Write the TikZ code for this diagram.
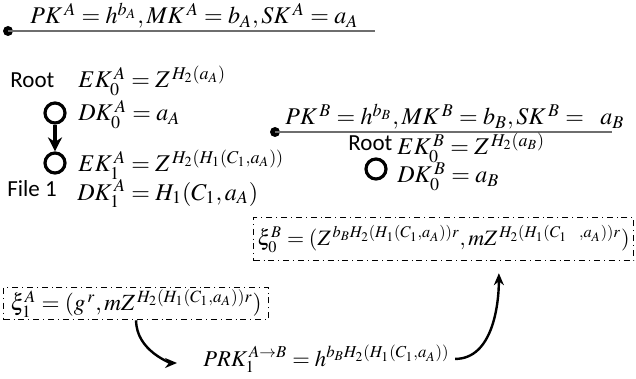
\documentclass[tikz,border=0pt]{standalone}
\usepackage{mathptmx}
\usepackage{fontspec}
\newfontfamily\labelfont{Carlito}
\usetikzlibrary{arrows.meta,positioning,calc}
\definecolor{keygray}{HTML}{6E6E6E}

\begin{document}
\begin{tikzpicture}[x=0.5pt,y=-0.5pt,every node/.style={font=\fontsize{12}{14}\selectfont,inner sep=0pt}]
\tikzset{keydot/.style={circle,fill=black,inner sep=0pt,minimum size=5pt},
  filenode/.style={circle,draw=black,line width=1.6pt,minimum size=10pt},
  tag/.style={font=\fontsize{11.5}{13}\selectfont\labelfont,anchor=base west},
  formula/.style={anchor=base west},
  msgbox/.style={draw=black,dash dot,line width=0.6pt,anchor=north west},
  flow/.style={-{Stealth[length=6pt,width=5pt]},line width=1.2pt,black}}
\useasboundingbox (0,0) rectangle (636,379);
% user A keys
\node[keydot] (dotA) at (8,31) {};
\coordinate (endA) at (375,31);
\draw[keygray,line width=0.7pt] (dotA.center)--(endA);
\node[formula] (pkA) at (30,24) {$PK^{\,A}=h^{b_A},MK^{\,A}=b_{A},SK^{\,A}=a_{A}$};
% user A tree
\node[tag] (rootA) at (10,88) {Root};
\node[formula] (ekA0) at (78,88) {$EK_0^{\,A}=Z^{\,H_2(a_A)}$};
\node[filenode] (fA0) at (55,113) {};
\node[formula] (dkA0) at (78,121) {$DK_0^{\,A}=a_{A}$};
\node[filenode] (fA1) at (55,163) {};
\draw[-{Stealth[length=7pt,width=7pt]},line width=1.8pt] (fA0)--(fA1);
\node[formula] (ekA1) at (78,172) {$EK_1^{\,A}=Z^{\,H_2(H_1(C_1,a_A))}$};
\node[tag] (fileA) at (7,197) {File 1};
\node[formula] (dkA1) at (77,200) {$DK_1^{\,A}=H_1(C_1,a_{A})$};
% user B keys
\node[keydot] (dotB) at (275,132) {};
\coordinate (endB) at (612,132);
\draw[keygray,line width=0.7pt] (dotB.center)--(endB);
\node[formula] (pkB) at (285,125) {$PK^{\,B}=h^{b_B},MK^{\,B}=b_{B},SK^{\,B}=\hspace{5.5pt}a_{B}$};
\node[tag] (rootB) at (348,151) {Root};
\node[formula] (ekB0) at (397,155) {$EK_0^{\,B}=Z^{\,H_2(a_B)}$};
\node[filenode] (fB0) at (376,169) {};
\node[formula] (dkB0) at (397,183) {$DK_0^{\,B}=a_{B}$};
% ciphertexts and re-encryption key
\node[msgbox,minimum width=190pt,minimum height=21.5pt,font=\fontsize{11}{13}\selectfont] (xiB) at (253,217) {$\xi_0^{B}=(Z^{\,b_BH_2(H_1(C_1,a_A))r},mZ^{\,H_2(H_1(C_1\hspace{6pt},a_A))r})$};
\node[msgbox,minimum width=132.5pt,minimum height=13.5pt,inner ysep=1pt,font=\fontsize{11.6}{13}\selectfont] (xiA) at (3,287) {$\xi_1^{A}=(g^{\,r},mZ^{\,H_2(H_1(C_1,a_A))r})$};
\node[formula,font=\fontsize{11.3}{13}\selectfont] (prk) at (203,366) {$PRK_1^{\,A\rightarrow B}=h^{b_BH_2(H_1(C_1,a_A))}$};
\coordinate (inB) at ($(xiB.south west)!0.645!(xiB.south east)$);
\draw[flow,shorten >=13pt] (xiA.south) to[out=-90,in=180] ($(prk.base west)+(0,-3)$);
\draw[flow,shorten <=2.5pt,shorten >=6pt] (prk.east) to[out=0,in=-90] (inB);
\end{tikzpicture}
\end{document}
